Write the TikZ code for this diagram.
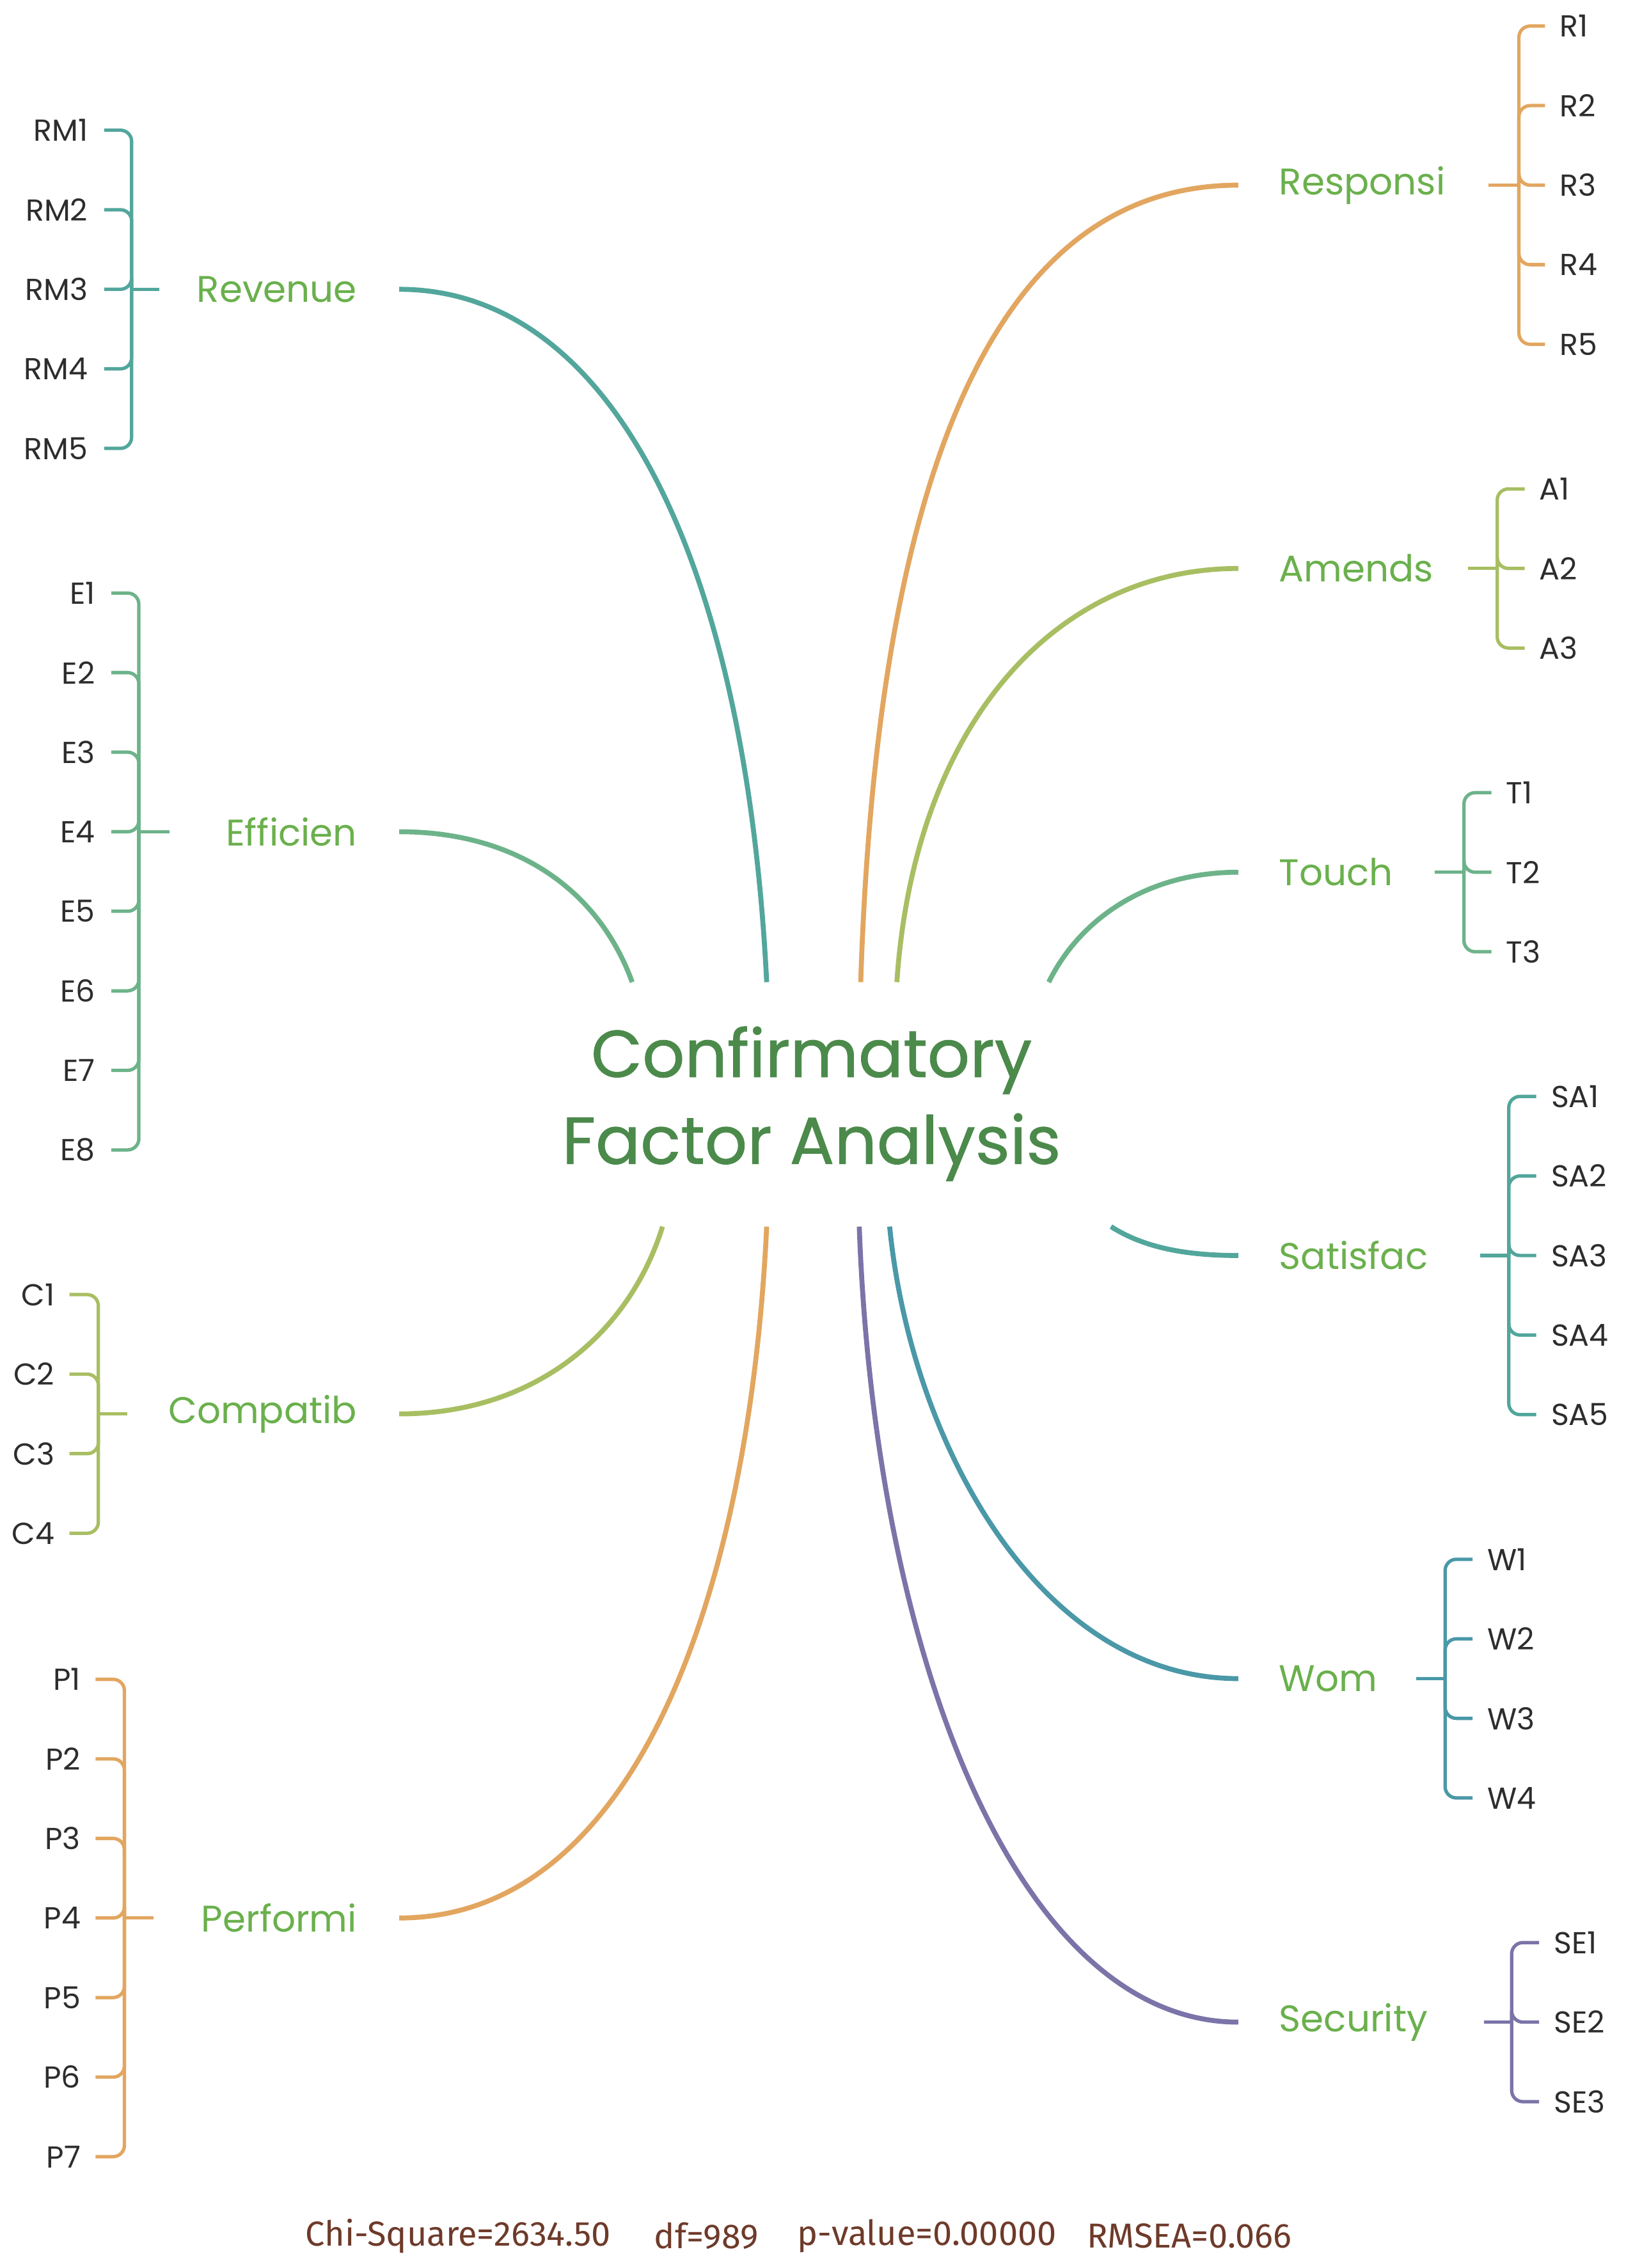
\documentclass[tikz,border=0pt]{standalone}
\usepackage{fontspec}
\setmainfont{Poppins}[Ligatures=NoCommon]
\newfontfamily\statfont{Fira Sans}
\newfontfamily\ttlfam{Poppins}[FakeBold=0.8]
\usetikzlibrary{calc}
\definecolor{cteal}{RGB}{82,166,156}
\definecolor{cgreen}{RGB}{109,179,138}
\definecolor{colive}{RGB}{168,190,98}
\definecolor{corange}{RGB}{226,166,96}
\definecolor{cblue}{RGB}{74,152,168}
\definecolor{cpurple}{RGB}{122,116,168}
\definecolor{labgreen}{RGB}{106,176,76}
\definecolor{ttlgreen}{RGB}{75,138,75}
\definecolor{indtext}{RGB}{45,45,45}
\definecolor{statbrown}{RGB}{110,58,42}
\newcommand\indfont{\fontsize{13.5}{16}\selectfont}
\newcommand\labfont{\fontsize{16.5}{20}\selectfont}
\newcommand\ttlfont{\ttlfam\fontsize{29.5}{38.6}\selectfont}
\newcommand\stfont{\statfont\fontsize{15.4}{18}\selectfont}
\begin{document}
\begin{tikzpicture}[x=0.022616cm,y=-0.022616cm,
  ind/.style={font=\indfont, text=indtext, inner sep=0pt},
  lab/.style={font=\labfont, text=labgreen, inner sep=0pt},
  br/.style={line width=1.5pt, rounded corners=5pt},
  cv/.style={line width=2.2pt},
  st/.style={font=\stfont, text=statbrown, inner sep=0pt, anchor=west}]
\useasboundingbox[fill=white] (0,0) rectangle (1124,1568);

% ---------- title ----------
\node[font=\ttlfont, text=ttlgreen, align=center, inner sep=0pt] (title) at (561,763)
  {Confirmatory\\Factor Analysis};

% ---------- end points at the title area ----------
\coordinate (eRev) at (530,679);
\coordinate (eEff) at (437,679);
\coordinate (eCom) at (458,848);
\coordinate (ePer) at (530,848);
\coordinate (eRes) at (595,679);
\coordinate (eAme) at (620,679);
\coordinate (eTou) at (725,679);
\coordinate (eSat) at (768,848);
\coordinate (eWom) at (615,848);
\coordinate (eSec) at (594,848);

% ================= LEFT SIDE =================
% Revenue
\node[lab,anchor=east] (Rev) at (247,200) {Revenue};
\coordinate (RMs) at (91,200);
\coordinate (RMt) at (110,200);
\foreach \n/\yy in {1/90,2/145,3/200,4/255,5/310}{
  \node[ind,anchor=east] (RM\n) at (61,\yy) {RM\n};
  \draw[br,cteal] ($(RM\n.east)+(11,0)$) -| (RMs);
}
\draw[br,cteal] (RMs) -- (RMt);
\draw[cv,cteal] ($(Rev.east)+(29,0)$) .. controls (420,200) and (515,380) .. (eRev);

% Efficien
\node[lab,anchor=east] (Eff) at (247,575) {Efficien};
\coordinate (Es) at (96,575);
\coordinate (Et) at (117,575);
\foreach \n/\yy in {1/410,2/465,3/520,4/575,5/630,6/685,7/740,8/795}{
  \node[ind,anchor=east] (E\n) at (66,\yy) {E\n};
  \draw[br,cgreen] ($(E\n.east)+(11,0)$) -| (Es);
}
\draw[br,cgreen] (Es) -- (Et);
\draw[cv,cgreen] ($(Eff.east)+(29,0)$) .. controls (360,575) and (415,618) .. (eEff);

% Compatib
\node[lab,anchor=east] (Com) at (247,977.5) {Compatib};
\coordinate (Cs) at (68,977.5);
\coordinate (Ct) at (88,977.5);
\foreach \n/\yy in {1/895,2/950,3/1005,4/1060}{
  \node[ind,anchor=east] (C\n) at (38,\yy) {C\n};
  \draw[br,colive] ($(C\n.east)+(10,0)$) -| (Cs);
}
\draw[br,colive] (Cs) -- (Ct);
\draw[cv,colive] ($(Com.east)+(29,0)$) .. controls (370,977.5) and (435,922) .. (eCom);

% Performi
\node[lab,anchor=east] (Per) at (247,1326) {Performi};
\coordinate (Ps) at (86,1326);
\coordinate (Pt) at (106,1326);
\foreach \n/\yy in {1/1161,2/1216,3/1271,4/1326,5/1381,6/1436,7/1491}{
  \node[ind,anchor=east] (P\n) at (56,\yy) {P\n};
  \draw[br,corange] ($(P\n.east)+(10,0)$) -| (Ps);
}
\draw[br,corange] (Ps) -- (Pt);
\draw[cv,corange] ($(Per.east)+(29,0)$) .. controls (440,1326) and (518,1100) .. (ePer);

% ================= RIGHT SIDE =================
% Responsi
\node[lab,anchor=west] (Res) at (884,128) {Responsi};
\coordinate (Rs) at (1050,128);
\coordinate (Rt) at (1029,128);
\foreach \n/\yy in {1/18,2/73,3/128,4/183,5/238}{
  \node[ind,anchor=west] (R\n) at (1078,\yy) {R\n};
  \draw[br,corange] ($(R\n.west)-(10,0)$) -| (Rs);
}
\draw[br,corange] (Rs) -- (Rt);
\draw[cv,corange] ($(Res.west)-(28,0)$) .. controls (695,128) and (607,310) .. (eRes);

% Amends
\node[lab,anchor=west] (Ame) at (884,393) {Amends};
\coordinate (As) at (1035,393);
\coordinate (At) at (1015,393);
\foreach \n/\yy in {1/338,2/393,3/448}{
  \node[ind,anchor=west] (A\n) at (1064,\yy) {A\n};
  \draw[br,colive] ($(A\n.west)-(10,0)$) -| (As);
}
\draw[br,colive] (As) -- (At);
\draw[cv,colive] ($(Ame.west)-(28,0)$) .. controls (730,393) and (632,500) .. (eAme);

% Touch
\node[lab,anchor=west] (Tou) at (884,603) {Touch};
\coordinate (Ts) at (1012,603);
\coordinate (Tt) at (992,603);
\foreach \n/\yy in {1/548,2/603,3/658}{
  \node[ind,anchor=west] (T\n) at (1041,\yy) {T\n};
  \draw[br,cgreen] ($(T\n.west)-(10,0)$) -| (Ts);
}
\draw[br,cgreen] (Ts) -- (Tt);
\draw[cv,cgreen] ($(Tou.west)-(28,0)$) .. controls (790,603) and (745,638) .. (eTou);

% Satisfac
\node[lab,anchor=west] (Sat) at (884,868) {Satisfac};
\coordinate (SAs) at (1043,868);
\coordinate (SAt) at (1023,868);
\foreach \n/\yy in {1/758,2/813,3/868,4/923,5/978}{
  \node[ind,anchor=west] (SA\n) at (1072,\yy) {SA\n};
  \draw[br,cteal] ($(SA\n.west)-(10,0)$) -| (SAs);
}
\draw[br,cteal] (SAs) -- (SAt);
\draw[cv,cteal] ($(Sat.west)-(28,0)$) .. controls (818,868) and (790,862) .. (eSat);

% Wom
\node[lab,anchor=west] (Wom) at (884,1160.5) {Wom};
\coordinate (Ws) at (999,1160.5);
\coordinate (Wt) at (979,1160.5);
\foreach \n/\yy in {1/1078,2/1133,3/1188,4/1243}{
  \node[ind,anchor=west] (W\n) at (1028,\yy) {W\n};
  \draw[br,cblue] ($(W\n.west)-(10,0)$) -| (Ws);
}
\draw[br,cblue] (Ws) -- (Wt);
\draw[cv,cblue] ($(Wom.west)-(28,0)$) .. controls (720,1160.5) and (630,1000) .. (eWom);

% Security
\node[lab,anchor=west] (Sec) at (884,1398) {Security};
\coordinate (SEs) at (1045,1398);
\coordinate (SEt) at (1026,1398);
\foreach \n/\yy in {1/1343,2/1398,3/1453}{
  \node[ind,anchor=west] (SE\n) at (1074,\yy) {SE\n};
  \draw[br,cpurple] ($(SE\n.west)-(10,0)$) -| (SEs);
}
\draw[br,cpurple] (SEs) -- (SEt);
\draw[cv,cpurple] ($(Sec.west)-(28,0)$) .. controls (705,1398) and (605,1150) .. (eSec);

% ---------- statistics ----------
\node[st] (st1) at (211,1546) {Chi-Square=2634.50};
\node[st] (st2) at (452,1546) {df=989};
\node[st] (st3) at (551,1546) {p-value=0.00000};
\node[st] (st4) at (751,1546) {RMSEA=0.066};
\end{tikzpicture}
\end{document}
